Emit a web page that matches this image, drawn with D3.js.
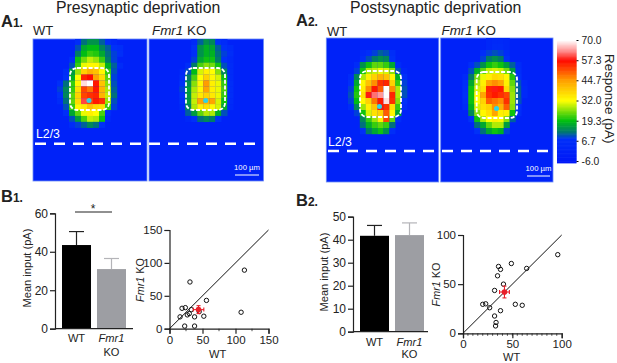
<!DOCTYPE html>
<html>
<head>
<meta charset="utf-8">
<script src="https://cdnjs.cloudflare.com/ajax/libs/d3/7.8.5/d3.min.js"></script>
<style>
  html, body { margin: 0; padding: 0; background: #fff; }
  text { font-family: "Liberation Sans", Arial, sans-serif; fill: #222; }
</style>
</head>
<body>
<div id="chart"></div>
<script>
// Heatmap values in pA, one list per row, blank cells are background
const preWT = [
  [0,0,0,0,0,0,0,6,12,15,15,11,6,3],
  [0,0,0,0,0,0,0,10,17,19,19,14,11,8,6],
  [0,0,0,0,0,0,0,13,19,22,21,17,12,9,7],
  [0,0,0,0,0,0,6,20,25,29,27,22,13,9],
  [0,0,0,0,0,0,10,22,31,33,33,29,18,11,5],
  [0,0,0,0,0,6,16,27,38,42,40,33,22,10],
  [0,0,0,0,0,8,18,32,55,57,44,37,24,9],
  [0,0,0,0,7,12,22,33,68,70,56,40,26,10],
  [0,0,0,0,9,14,22,36,52,48,56,42,28,11],
  [0,0,0,0,8,14,24,38,52,54,55,42,29,12],
  [0,0,0,0,5,12,24,37,60,52,56,54,27,10],
  [0,0,0,0,0,10,22,33,35,40,37,36,22,9],
  [0,0,0,0,0,7,17,24,31,34,32,23,6],
  [0,0,0,0,0,0,10,16,23,29,28,20,3],
  [0,0,0,0,0,0,5,9,11,14,12,8]
];
const preKO = [
  [0,0,0,0,0,0,0,4,11,15,14,8,5],
  [0,0,0,0,0,0,0,8,15,18,17,11,8,5],
  [0,0,0,0,0,0,0,7,15,18,18,12,9,6],
  [0,0,0,0,0,0,0,9,17,20,20,13,8,4],
  [0,0,0,0,0,0,6,13,23,26,25,20,10,5],
  [0,0,0,0,0,3,10,19,30,34,32,26,14,5],
  [0,0,0,0,0,5,13,23,32,38,33,30,20,5],
  [0,0,0,0,0,8,15,26,33,45,34,31,22,6],
  [0,0,0,0,0,9,17,28,33,44,34,31,23,6],
  [0,0,0,0,0,8,16,29,35,38,35,31,22,6],
  [0,0,0,0,0,6,16,29,44,42,44,30,20,5],
  [0,0,0,0,0,4,14,28,34,36,33,30,17,4],
  [0,0,0,0,0,0,11,16,24,28,28,18,10],
  [0,0,0,0,0,0,3,8,12,14,13,8]
];
const postWT = [
  [],
  [],
  [0,0,0,0,0,0,4,7,9,11,10,6],
  [0,0,0,0,0,0,6,10,13,15,14,8],
  [0,0,0,0,0,5,15,20,24,24,22,17,5],
  [0,0,0,0,0,9,20,28,29,31,30,26,10,3],
  [0,0,0,0,5,14,28,34,38,42,40,33,18,8],
  [0,0,0,0,7,17,33,40,46,54,55,38,22,9],
  [0,0,0,0,9,20,34,46,56,50,70,46,28,10],
  [0,0,0,0,10,21,36,58,62,64,70,55,28,10],
  [0,0,0,0,9,19,33,38,48,56,68,54,26,8],
  [0,0,0,0,5,14,27,34,40,56,54,36,22,5],
  [0,0,0,0,0,9,20,30,36,38,50,33,17],
  [0,0,0,0,0,0,14,22,27,34,52,24,6],
  [0,0,0,0,0,0,12,18,22,24,22,12],
  [0,0,0,0,0,0,7,13,17,20,15,7]
];
const postKO = [
  [0,0,0,0,0,0,0,0,3,4,4,3],
  [0,0,0,0,0,0,0,0,3,5,5,3],
  [0,0,0,0,0,0,0,6,9,10,9,5],
  [0,0,0,0,0,0,0,9,13,15,13,8],
  [0,0,0,0,0,6,10,15,20,22,20,16,11,5],
  [0,0,0,0,0,10,18,24,29,30,29,25,16,6],
  [0,0,0,0,4,13,25,31,34,37,36,33,21,8],
  [0,0,0,0,6,17,28,34,44,46,44,34,24,10,3],
  [0,0,0,0,7,20,30,36,55,58,56,37,26,11,4],
  [0,0,0,0,8,20,32,44,54,56,54,52,27,11,4],
  [0,0,0,0,7,20,32,38,50,48,46,54,27,10],
  [0,0,0,0,5,18,30,36,38,46,42,50,26,8],
  [0,0,0,0,0,14,26,33,36,44,34,34,20,6],
  [0,0,0,0,0,8,20,28,32,34,33,26,11],
  [0,0,0,0,0,0,12,17,24,28,28,16],
  [0,0,0,0,0,0,8,12,17,20,18,9]
];

// Colour bar
const barTicks = [70, 57.3, 44.7, 32, 19.3, 6.7, -6];
const colorStops = [-6, 8, 12.5, 19.3, 32, 44.7, 51, 57.3, 63, 70];
const colorValues = ["#0018f8", "#0030f8", "#00786e", "#00c010", "#ffff00", "#ffa000", "#ff5000", "#ff0a00", "#ff8888", "#ffffff"];

// Bars
const barCats = ["WT", "Fmr1"];
const preMeans = [43.5, 31];
const preErrs = [7, 5.5];
const postMeans = [41.7, 42];
const postErrs = [4.5, 5.3];

// Scatter points, WT against Fmr1 KO
const preX = [113.5, 108.5, 31, 56, 19, 24, 33, 16, 27, 30, 38, 52, 23, 38, 45];
const preY = [89, 25, 71, 43, 31, 32, 29, 18, 21, 23, 18, 19, 4, 4, 26];
const preMean = [44, 29], preMeanErr = [8, 6];
const postX = [96, 64.5, 49, 36, 38, 35, 41, 32, 23, 20, 27, 38, 32, 33.5, 33, 53, 60];
const postY = [80, 66, 71, 68, 65, 58.5, 50, 43.6, 30, 29.5, 26, 23, 17.6, 11, 7.5, 29.5, 28.5];
const postMean = [42, 42], postMeanErr = [5, 6];

const width = 617, height = 363;
const svg = d3.select("#chart").append("svg")
  .attr("width", width).attr("height", height)
  .style("display", "block");

const heat = d3.scaleLinear().domain(colorStops).range(colorValues).clamp(true);

function label(x, y, str, size, opts = {}) {
  const t = svg.append("text")
    .attr("x", x).attr("y", y)
    .attr("font-size", size)
    .attr("text-anchor", opts.anchor || "start")
    .text(str);
  if (opts.italic) t.attr("font-style", "italic");
  if (opts.fill) t.style("fill", opts.fill);
  if (opts.rotate !== undefined) t.attr("transform", `rotate(${opts.rotate} ${x} ${y})`);
  return t;
}

// small helper for "Fmr1 KO" with the italic gene name
function geneLabel(x, y, size, rotate) {
  const t = svg.append("text").attr("x", x).attr("y", y).attr("font-size", size);
  t.append("tspan").attr("font-style", "italic").text("Fmr1");
  t.append("tspan").text(" KO");
  if (rotate !== undefined) {
    t.attr("text-anchor", "middle").attr("transform", `rotate(${rotate} ${x} ${y})`);
  }
}

function heatPanel(grid, box, rect, dot) {
  const g = svg.append("g");
  const shift = box.shift || 0;
  const x = d3.scaleBand().domain(d3.range(19)).range([box.x0 + shift, box.x1 + shift]);
  const y = d3.scaleBand().domain(d3.range(24)).range([box.y0, box.y1]);
  g.append("rect")
    .attr("x", box.x0).attr("y", box.y0)
    .attr("width", box.x1 - box.x0).attr("height", box.y1 - box.y0)
    .attr("fill", heat(0))
    .attr("stroke", "#6c8cf4").attr("stroke-width", 0.8);

  const cells = grid.flatMap((row, r) => row.map((v, c) => ({ r, c, v }))).filter(d => d.v > 0);
  g.selectAll("rect.cell")
    .data(cells)
    .enter()
    .append("rect")
    .attr("class", "cell")
    .attr("x", d => x(d.c))
    .attr("y", d => y(d.r))
    .attr("width", x.bandwidth() + 0.2)
    .attr("height", y.bandwidth() + 0.2)
    .attr("fill", d => heat(d.v));

  g.append("rect")
    .attr("x", rect[0]).attr("y", rect[1])
    .attr("width", rect[2] - rect[0]).attr("height", rect[3] - rect[1])
    .attr("rx", 7)
    .attr("fill", "none")
    .attr("stroke", "#fff").attr("stroke-width", 1.8)
    .attr("stroke-dasharray", "4 1.8");

  g.append("circle")
    .attr("cx", dot[0]).attr("cy", dot[1]).attr("r", 2.5)
    .attr("fill", "#2fd3e6");
}

function dashLine(x0, x1, y) {
  svg.append("line")
    .attr("x1", x0).attr("x2", x1).attr("y1", y).attr("y2", y)
    .attr("stroke", "#fff").attr("stroke-width", 2.6)
    .attr("stroke-dasharray", "11 8");
}

function scaleMark(x0, x1, y) {
  svg.append("line")
    .attr("x1", x0).attr("x2", x1).attr("y1", y).attr("y2", y)
    .attr("stroke", "#fff").attr("stroke-width", 1);
  label((x0 + x1) / 2, y - 5, "100 µm", 7.7, { anchor: "middle", fill: "#fff" });
}

heatPanel(preWT, { x0: 33, x1: 147, y0: 39, y1: 181 }, [70, 68, 109, 110], [89, 100.5]);
heatPanel(preKO, { x0: 149, x1: 263.5, y0: 39, y1: 181 }, [186, 68, 225, 110], [205.7, 100.5]);
heatPanel(postWT, { x0: 326.3, x1: 438.7, y0: 38, y1: 182, shift: -2 }, [360, 71, 401, 117], [379.5, 106.5]);
heatPanel(postKO, { x0: 440.7, x1: 553, y0: 38, y1: 182, shift: -2 }, [476.7, 72, 517, 118], [496.5, 108.5]);

dashLine(35, 256, 143.7);
dashLine(328, 550, 151);
scaleMark(235, 259, 175);
scaleMark(527, 550, 176);
label(36, 138, "L2/3", 12.3, { fill: "#fff" });
label(328, 145.5, "L2/3", 12.3, { fill: "#fff" });

label(56, 13, "Presynaptic deprivation", 15.8);
label(350, 13, "Postsynaptic deprivation", 15.8);
label(33, 35, "WT", 13);
geneLabel(152, 35, 13.4);
label(327, 36, "WT", 13);
geneLabel(441.5, 34.5, 13.4);

function panelTag(x, y, a, b) {
  const t = svg.append("text").attr("x", x).attr("y", y).attr("font-weight", "bold");
  t.append("tspan").attr("font-size", 16.5).text(a);
  t.append("tspan").attr("font-size", 12).text(b);
}
panelTag(1, 26.7, "A", "1.");
panelTag(296, 26, "A", "2.");
panelTag(1, 201.7, "B", "1.");
panelTag(296, 205.7, "B", "2.");

// Colour bar
const barY = d3.scaleLinear().domain([-6, 70]).range([161, 40]);
svg.append("g").selectAll("rect")
  .data(d3.range(-7, 71, 0.5))
  .enter()
  .append("rect")
  .attr("x", 557).attr("width", 19.5)
  .attr("y", d => barY(d) - 0.6)
  .attr("height", 1.4)
  .attr("fill", d => heat(d));

const barAxis = svg.append("g")
  .attr("transform", "translate(576.5,0)")
  .call(d3.axisRight(barY).tickValues(barTicks).tickSize(2).tickPadding(3)
    .tickFormat(d => d3.format(".1f")(d).replace("−", "-")));
barAxis.select(".domain").remove();
barAxis.selectAll("text").attr("font-size", 10.3);
label(605, 98.7, "Response (pA)", 13.4, { anchor: "middle", rotate: 90 });

function styleAxis(g, size) {
  g.select(".domain").attr("stroke", "#222").attr("stroke-width", 1.2);
  g.selectAll(".tick line").attr("stroke", "#222").attr("stroke-width", 1.2);
  g.selectAll("text").attr("font-size", size);
}

function barPanel(means, errs, cfg) {
  const x = d3.scaleBand().domain(barCats)
    .range([cfg.x0, cfg.x1]).paddingInner(0.171).paddingOuter(0.2);
  const y = d3.scaleLinear().domain([0, cfg.max]).range([cfg.y0, cfg.y1]);
  const fills = ["#000", "#9d9ea3"];

  const g = svg.append("g");
  g.selectAll("rect")
    .data(barCats)
    .enter()
    .append("rect")
    .attr("x", d => x(d))
    .attr("width", x.bandwidth())
    .attr("y", (d, i) => y(means[i]))
    .attr("height", (d, i) => y(0) - y(means[i]))
    .attr("fill", (d, i) => fills[i]);

  barCats.forEach((c, i) => {
    const cx = x(c) + x.bandwidth() / 2;
    const col = i === 0 ? "#222" : "#b4b4b8";
    g.append("line").attr("x1", cx).attr("x2", cx)
      .attr("y1", y(means[i])).attr("y2", y(means[i] + errs[i]))
      .attr("stroke", col).attr("stroke-width", 1.2);
    g.append("line").attr("x1", cx - 7.5).attr("x2", cx + 7.5)
      .attr("y1", y(means[i] + errs[i])).attr("y2", y(means[i] + errs[i]))
      .attr("stroke", col).attr("stroke-width", 1.2);
  });

  const ya = svg.append("g").attr("transform", `translate(${cfg.x0},0)`)
    .call(d3.axisLeft(y).tickValues(cfg.ticks).tickSize(5).tickPadding(2));
  styleAxis(ya, 12);
  svg.append("line")
    .attr("x1", cfg.x0).attr("x2", cfg.baseEnd)
    .attr("y1", y(0)).attr("y2", y(0))
    .attr("stroke", "#222").attr("stroke-width", 1.2);

  label(cfg.ylabelX, cfg.ylabelY, "Mean input (pA)", 11.1, { anchor: "middle", rotate: -90 });
  label(x("WT") + x.bandwidth() / 2, cfg.catY, "WT", 11.1, { anchor: "middle" });
  label(x("Fmr1") + x.bandwidth() / 2, cfg.catY, "Fmr1", 11.1, { anchor: "middle", italic: true });
  label(x("Fmr1") + x.bandwidth() / 2, cfg.koY, "KO", 11.1, { anchor: "middle" });
}

barPanel(preMeans, preErrs, {
  x0: 55, x1: 133, baseEnd: 133, y0: 328.7, y1: 213.3, max: 60, ticks: [0, 20, 40, 60],
  ylabelX: 31, ylabelY: 268, catY: 341.7, koY: 356
});
barPanel(postMeans, postErrs, {
  x0: 353, x1: 431, baseEnd: 428, y0: 331.7, y1: 216.7, max: 50, ticks: [0, 10, 20, 30, 40, 50],
  ylabelX: 328, ylabelY: 272, catY: 345.7, koY: 358.3
});

// significance bar
svg.append("line").attr("x1", 75).attr("x2", 112).attr("y1", 212).attr("y2", 212)
  .attr("stroke", "#222").attr("stroke-width", 1.2);
label(93, 213, "*", 12, { anchor: "middle" });

function scatterPanel(xs, ys, mean, err, cfg) {
  const x = d3.scaleLinear().domain([0, cfg.max]).range([cfg.x0, cfg.x1]);
  const y = d3.scaleLinear().domain([0, cfg.max]).range([cfg.y0, cfg.y1]);

  const xa = svg.append("g").attr("transform", `translate(0,${cfg.y0})`)
    .call(d3.axisBottom(x).tickValues(cfg.ticks).tickSize(5).tickPadding(2));
  styleAxis(xa, 11.5);
  const ya = svg.append("g").attr("transform", `translate(${cfg.x0},0)`)
    .call(d3.axisLeft(y).tickValues(cfg.ticks).tickSize(5).tickPadding(2));
  styleAxis(ya, 11.5);

  // minor ticks on the bottom axis
  svg.append("g").selectAll("line")
    .data(cfg.minor)
    .enter()
    .append("line")
    .attr("x1", d => x(d)).attr("x2", d => x(d))
    .attr("y1", cfg.y0).attr("y2", cfg.y0 + 2.5)
    .attr("stroke", "#222").attr("stroke-width", 0.8);

  svg.append("line")
    .attr("x1", x(0)).attr("y1", y(0))
    .attr("x2", x(cfg.max)).attr("y2", y(cfg.max))
    .attr("stroke", "#111").attr("stroke-width", 1);

  svg.append("g").selectAll("circle")
    .data(xs)
    .enter()
    .append("circle")
    .attr("cx", d => x(d))
    .attr("cy", (d, i) => y(ys[i]))
    .attr("r", 2.2)
    .attr("fill", "none")
    .attr("stroke", "#111").attr("stroke-width", 1);

  // mean with cross error bars
  const red = svg.append("g").attr("stroke", "#e8202a").attr("stroke-width", 1.1);
  const mx = x(mean[0]), my = y(mean[1]);
  const xl = x(mean[0] - err[0]), xr = x(mean[0] + err[0]);
  const yb = y(mean[1] - err[1]), yt = y(mean[1] + err[1]);
  red.append("line").attr("x1", xl).attr("x2", xr).attr("y1", my).attr("y2", my);
  red.append("line").attr("x1", mx).attr("x2", mx).attr("y1", yb).attr("y2", yt);
  [xl, xr].forEach(v => red.append("line").attr("x1", v).attr("x2", v).attr("y1", my - 2).attr("y2", my + 2));
  [yb, yt].forEach(v => red.append("line").attr("x1", mx - 2).attr("x2", mx + 2).attr("y1", v).attr("y2", v));
  svg.append("circle").attr("cx", mx).attr("cy", my).attr("r", 2.8).attr("fill", "#e8202a");

  geneLabel(cfg.ylabelX, cfg.ylabelY, 10.8, -90);
  label(cfg.xlabelX, cfg.xlabelY, "WT", 11.1, { anchor: "middle" });
}

scatterPanel(preX, preY, preMean, preMeanErr, {
  x0: 169.5, x1: 268.5, y0: 328.7, y1: 230, max: 150,
  ticks: [0, 50, 100, 150], minor: [25, 75, 125],
  ylabelX: 143.5, ylabelY: 280, xlabelX: 217.7, xlabelY: 357.7
});
scatterPanel(postX, postY, postMean, postMeanErr, {
  x0: 463, x1: 561.7, y0: 333.3, y1: 235, max: 100,
  ticks: [0, 50, 100], minor: d3.range(5, 100, 5),
  ylabelX: 440, ylabelY: 284.5, xlabelX: 511.7, xlabelY: 361
});
</script>
</body>
</html>
